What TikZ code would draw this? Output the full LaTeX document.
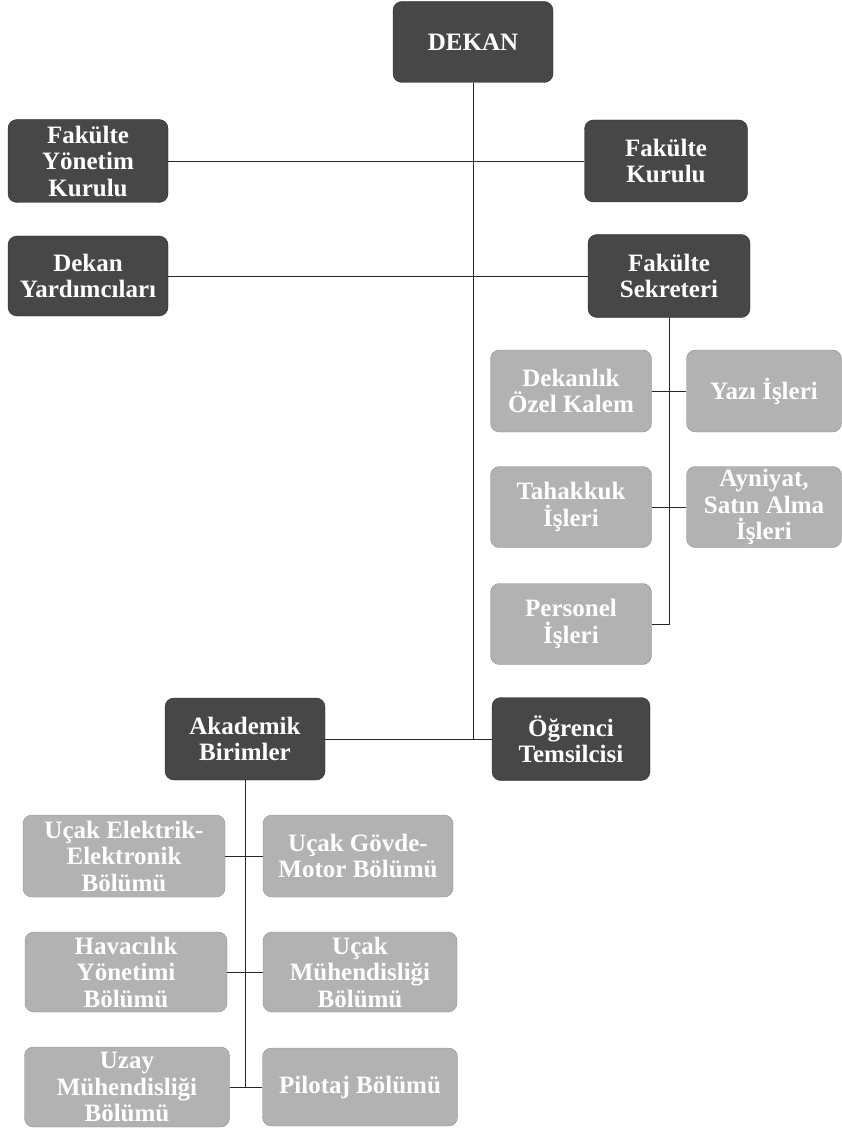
\documentclass[tikz,border=0pt]{standalone}
\usepackage{fontspec}
\setmainfont{Liberation Serif}

\begin{document}
\begin{tikzpicture}[x=1pt,y=-1pt,
	koyu/.style={draw=black!85,fill=black!72,rounded corners=9pt,text=white,
		font=\bfseries\fontsize{25}{26.5}\selectfont,align=center,inner xsep=2pt,inner ysep=0pt},
	acik/.style={koyu,draw=black!45,fill=black!30},
	hat/.style={draw=black!85,line width=0.9pt}]
	\useasboundingbox (0,0) rectangle (842,1131);

	% Dekan ve kurullar
	\node[koyu,minimum width=160,minimum height=81] (dekan) at (473,42) {DEKAN};
	\node[koyu,minimum width=160,minimum height=83] (fyk) at (88,161) {Fakülte\\Yönetim\\Kurulu};
	\node[koyu,minimum width=163,minimum height=82] (fk) at (666,161) {Fakülte\\Kurulu};
	\node[koyu,minimum width=160,minimum height=80] (yard) at (88,276) {Dekan\\Yardımcıları};
	\node[koyu,minimum width=162,minimum height=83] (sekr) at (669,276) {Fakülte\\Sekreteri};

	% Sekreterlik birimleri
	\node[acik,minimum width=161,minimum height=82] (ozel) at (571,391) {Dekanlık\\Özel Kalem};
	\node[acik,minimum width=155,minimum height=82] (yazi) at (764,391) {Yazı İşleri};
	\node[acik,minimum width=161,minimum height=81] (tahak) at (571,507) {Tahakkuk\\İşleri};
	\node[acik,minimum width=155,minimum height=81] (ayni) at (764,507) {Ayniyat,\\Satın Alma\\İşleri};
	\node[acik,minimum width=161,minimum height=81] (pers) at (571,624) {Personel\\İşleri};

	% Akademik birimler ve temsilci
	\node[koyu,minimum width=160,minimum height=82] (akad) at (245,739) {Akademik\\Birimler};
	\node[koyu,minimum width=158,minimum height=83] (ogr) at (571,739) {Öğrenci\\Temsilcisi};

	% Bölümler
	\node[acik,minimum width=202,minimum height=82] (elek) at (124,856) {Uçak Elektrik-\\Elektronik\\Bölümü};
	\node[acik,minimum width=190,minimum height=82] (govde) at (358,856) {Uçak Gövde-\\Motor Bölümü};
	\node[acik,minimum width=202,minimum height=80] (hava) at (126,972) {Havacılık\\Yönetimi\\Bölümü};
	\node[acik,minimum width=194,minimum height=80] (ucak) at (360,972) {Uçak\\Mühendisliği\\Bölümü};
	\node[acik,minimum width=205,minimum height=80] (uzay) at (127,1087) {Uzay\\Mühendisliği\\Bölümü};
	\node[acik,minimum width=195,minimum height=78] (pilot) at (360,1087) {Pilotaj Bölümü};

	% Bağlantılar
	\draw[hat] (dekan.south) -- (dekan.south |- ogr.west);
	\draw[hat] (fyk) -- (fk);
	\draw[hat] (yard) -- (sekr);
	\draw[hat] (akad) -- (ogr);
	\draw[hat] (sekr.south) -- (sekr.south |- pers.east) -- (pers.east);
	\draw[hat] (ozel) -- (yazi);
	\draw[hat] (tahak) -- (ayni);
	\draw[hat] (akad.south) -- (akad.south |- uzay.east);
	\draw[hat] (elek) -- (govde);
	\draw[hat] (hava) -- (ucak);
	\draw[hat] (uzay) -- (pilot);

\end{tikzpicture}
\end{document}
